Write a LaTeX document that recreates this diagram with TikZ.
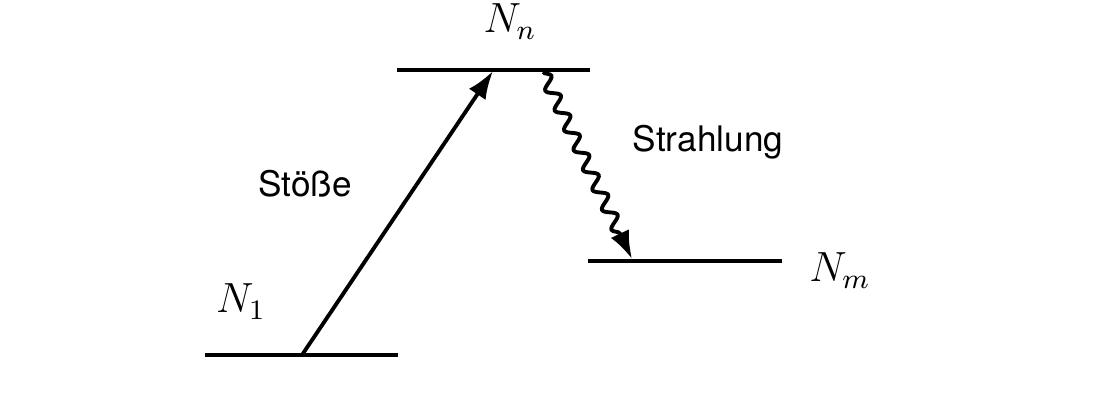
\documentclass[tikz,border=0pt]{standalone}
\usepackage{amsmath}
\usepackage{fontspec}
\newfontfamily\helv{TeX Gyre Heros}
\usetikzlibrary{arrows.meta,decorations.pathmorphing,positioning}

\begin{document}
\begin{tikzpicture}[x=0.01cm, y=-0.01cm, >={Latex[length=2.8mm,width=2.0mm]},
	   lev/.style={line width=1.1pt},
	   tr/.style={line width=1.1pt, ->},
	   lbl/.style={font=\helv\fontsize{10}{12}\selectfont, inner sep=0pt, anchor=base},
	   nl/.style={font=\fontsize{11.5}{13}\selectfont, inner sep=0pt, anchor=base}]
	  \useasboundingbox (0,0) rectangle (1110,404);
	  % energy levels
	  \coordinate (l1a) at (205,355); \coordinate (l1b) at (398,355);
	  \coordinate (lna) at (397,70);  \coordinate (lnb) at (590,70);
	  \coordinate (lma) at (588,261); \coordinate (lmb) at (782,261);
	  \draw[lev] (l1a)--(l1b); \draw[lev] (lna)--(lnb); \draw[lev] (lma)--(lmb);
	  \node[nl] (N1) at (241,313) {$N_1$};
	  \node[nl] (Nn) at (510,33) {$N_n$};
	  \node[nl] (Nm) at (840,282) {$N_m$};
	  % transitions
	  \coordinate (s0) at (302,355); \coordinate (s1) at (493,71);
	  \coordinate (w0) at (543,72);  \coordinate (w1) at (632,259);
	  \draw[tr] (s0)--(s1);
	  \draw[tr, decorate, decoration={snake, amplitude=0.6mm, segment length=2.2mm, post length=2.8mm}] (w0)--(w1);
	  \node[lbl] (st) at (305,197) {Stöße};
	  \node[lbl] (sh) at (708,152) {Strahlung};
	\end{tikzpicture}
\end{document}
